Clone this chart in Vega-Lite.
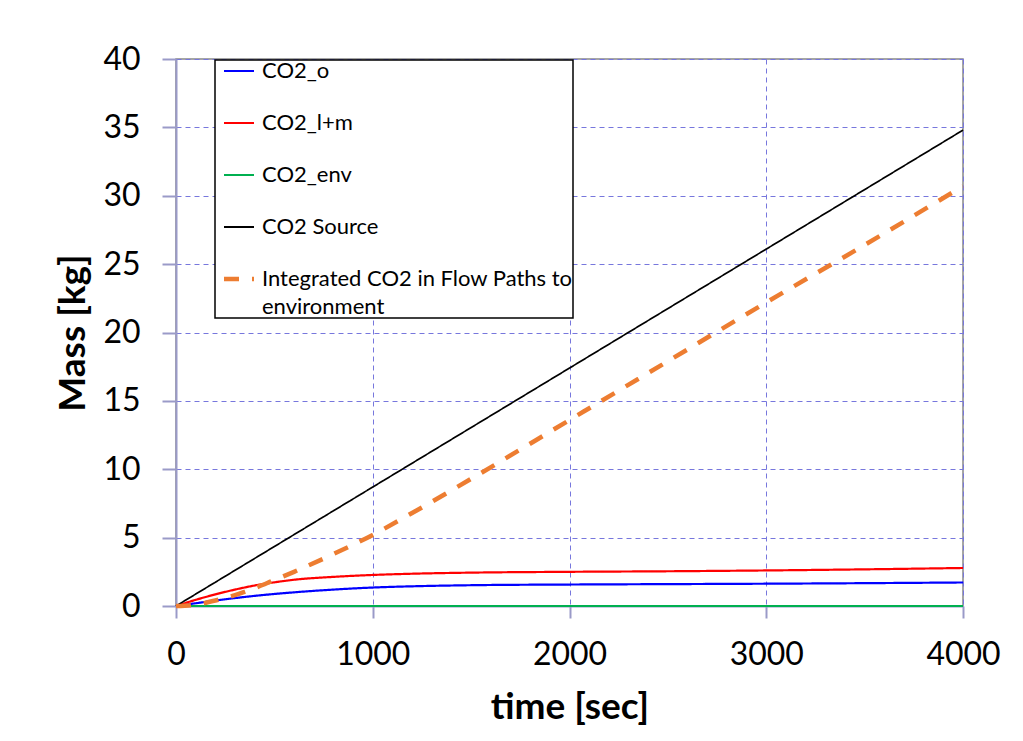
{
  "$schema": "https://vega.github.io/schema/vega-lite/v6.json",
  "width": 787,
  "height": 547,
  "autosize": {"type": "none"},
  "padding": {"left": 176, "top": 59, "right": 60, "bottom": 135},
  "background": "white",
  "config": {
    "font": "Lato",
    "view": {"stroke": "#888888", "strokeWidth": 1.5},
    "axis": {
      "grid": true,
      "gridColor": "#7777dd",
      "gridDash": [5, 4],
      "gridWidth": 1,
      "domainColor": "#9a9ac8",
      "domainWidth": 2,
      "tickColor": "#9a9ac8",
      "tickWidth": 2,
      "labelFont": "Lato",
      "labelFontSize": 32,
      "labelColor": "black",
      "titleFont": "Lato",
      "titleFontSize": 37,
      "titleFontWeight": "bold",
      "titleColor": "black"
    }
  },
  "data": {
    "values": [
      {"t": 0, "series": "CO2_o", "m": 0},
      {"t": 100, "series": "CO2_o", "m": 0.2},
      {"t": 200, "series": "CO2_o", "m": 0.4},
      {"t": 300, "series": "CO2_o", "m": 0.58},
      {"t": 400, "series": "CO2_o", "m": 0.74},
      {"t": 500, "series": "CO2_o", "m": 0.88},
      {"t": 600, "series": "CO2_o", "m": 1.0},
      {"t": 800, "series": "CO2_o", "m": 1.2},
      {"t": 1000, "series": "CO2_o", "m": 1.35},
      {"t": 1200, "series": "CO2_o", "m": 1.44},
      {"t": 1500, "series": "CO2_o", "m": 1.52},
      {"t": 2000, "series": "CO2_o", "m": 1.57},
      {"t": 2500, "series": "CO2_o", "m": 1.6},
      {"t": 3000, "series": "CO2_o", "m": 1.63},
      {"t": 3500, "series": "CO2_o", "m": 1.67},
      {"t": 4000, "series": "CO2_o", "m": 1.72},
      {"t": 0, "series": "CO2_l+m", "m": 0},
      {"t": 100, "series": "CO2_l+m", "m": 0.45},
      {"t": 200, "series": "CO2_l+m", "m": 0.85},
      {"t": 300, "series": "CO2_l+m", "m": 1.2},
      {"t": 400, "series": "CO2_l+m", "m": 1.5},
      {"t": 500, "series": "CO2_l+m", "m": 1.73},
      {"t": 600, "series": "CO2_l+m", "m": 1.92},
      {"t": 800, "series": "CO2_l+m", "m": 2.13},
      {"t": 1000, "series": "CO2_l+m", "m": 2.27},
      {"t": 1200, "series": "CO2_l+m", "m": 2.36},
      {"t": 1500, "series": "CO2_l+m", "m": 2.44},
      {"t": 2000, "series": "CO2_l+m", "m": 2.5},
      {"t": 2500, "series": "CO2_l+m", "m": 2.54},
      {"t": 3000, "series": "CO2_l+m", "m": 2.6},
      {"t": 3500, "series": "CO2_l+m", "m": 2.68},
      {"t": 4000, "series": "CO2_l+m", "m": 2.78},
      {"t": 0, "series": "CO2_env", "m": 0},
      {"t": 1000, "series": "CO2_env", "m": 0},
      {"t": 2000, "series": "CO2_env", "m": 0},
      {"t": 3000, "series": "CO2_env", "m": 0},
      {"t": 4000, "series": "CO2_env", "m": 0},
      {"t": 0, "series": "CO2 Source", "m": 0},
      {"t": 1000, "series": "CO2 Source", "m": 8.7},
      {"t": 2000, "series": "CO2 Source", "m": 17.4},
      {"t": 3000, "series": "CO2 Source", "m": 26.1},
      {"t": 4000, "series": "CO2 Source", "m": 34.8},
      {"t": 0, "series": "Integrated CO2 in Flow Paths to environment", "m": 0},
      {"t": 100, "series": "Integrated CO2 in Flow Paths to environment", "m": 0.1},
      {"t": 200, "series": "Integrated CO2 in Flow Paths to environment", "m": 0.4},
      {"t": 300, "series": "Integrated CO2 in Flow Paths to environment", "m": 0.8},
      {"t": 400, "series": "Integrated CO2 in Flow Paths to environment", "m": 1.3},
      {"t": 500, "series": "Integrated CO2 in Flow Paths to environment", "m": 1.9},
      {"t": 600, "series": "Integrated CO2 in Flow Paths to environment", "m": 2.5},
      {"t": 800, "series": "Integrated CO2 in Flow Paths to environment", "m": 3.8},
      {"t": 1000, "series": "Integrated CO2 in Flow Paths to environment", "m": 5.2},
      {"t": 1200, "series": "Integrated CO2 in Flow Paths to environment", "m": 6.8},
      {"t": 1500, "series": "Integrated CO2 in Flow Paths to environment", "m": 9.3},
      {"t": 2000, "series": "Integrated CO2 in Flow Paths to environment", "m": 13.6},
      {"t": 2500, "series": "Integrated CO2 in Flow Paths to environment", "m": 17.9},
      {"t": 3000, "series": "Integrated CO2 in Flow Paths to environment", "m": 22.2},
      {"t": 3500, "series": "Integrated CO2 in Flow Paths to environment", "m": 26.4},
      {"t": 4000, "series": "Integrated CO2 in Flow Paths to environment", "m": 30.7}
    ]
  },
  "mark": {"type": "line", "interpolate": "monotone"},
  "encoding": {
    "x": {
      "field": "t", "type": "quantitative",
      "scale": {"domain": [0, 4000], "nice": false},
      "axis": {"values": [0, 1000, 2000, 3000, 4000], "format": "d", "labelFlush": false, "tickSize": 12, "labelPadding": 21, "title": "time [sec]", "titlePadding": 19}
    },
    "y": {
      "field": "m", "type": "quantitative",
      "scale": {"domain": [0, 40], "nice": false},
      "axis": {"values": [0, 5, 10, 15, 20, 25, 30, 35, 40], "labelFlush": false, "tickSize": 14, "labelPadding": 22, "title": "Mass [kg]", "titlePadding": 10}
    },
    "color": {
      "field": "series", "type": "ordinal",
      "scale": {
        "domain": ["CO2_o", "CO2_l+m", "CO2_env", "CO2 Source", "Integrated CO2 in Flow Paths to environment"],
        "range": ["#0000ff", "#ff0000", "#00b050", "#000000", "#ed7d31"]
      },
      "legend": {
        "orient": "none",
        "legendX": 39,
        "legendY": 1,
        "title": null,
        "direction": "vertical",
        "symbolType": "stroke",
        "symbolSize": 900,
        "symbolOffset": 13,
        "labelFont": "Lato",
        "labelFontSize": 22,
        "labelColor": "black",
        "labelLimit": 400,
        "labelOffset": 12,
        "rowPadding": 30,
        "padding": 0,
        "strokeColor": "black",
        "fillColor": "white",
        "labelExpr": "datum.label == 'Integrated CO2 in Flow Paths to environment' ? ['Integrated CO2 in Flow Paths to', 'environment'] : datum.label",
        "encode": {
          "labels": {"update": {"lineHeight": {"value": 28}}},
          "symbols": {"update": {"strokeWidth": {"signal": "datum.value === 'Integrated CO2 in Flow Paths to environment' ? 4.5 : 2"}}},
          "legend": {"update": {"strokeWidth": {"value": 1.5}}}
        }
      }
    },
    "strokeDash": {
      "field": "series", "type": "ordinal",
      "scale": {
        "domain": ["CO2_o", "CO2_l+m", "CO2_env", "CO2 Source", "Integrated CO2 in Flow Paths to environment"],
        "range": [[1, 0], [1, 0], [1, 0], [1, 0], [15, 13]]
      }
    },
    "strokeWidth": {
      "condition": [
        {"test": "datum.series === 'Integrated CO2 in Flow Paths to environment'", "value": 4.5},
        {"test": "datum.series === 'CO2 Source'", "value": 1.7}
      ],
      "value": 2.2
    }
  }
}
